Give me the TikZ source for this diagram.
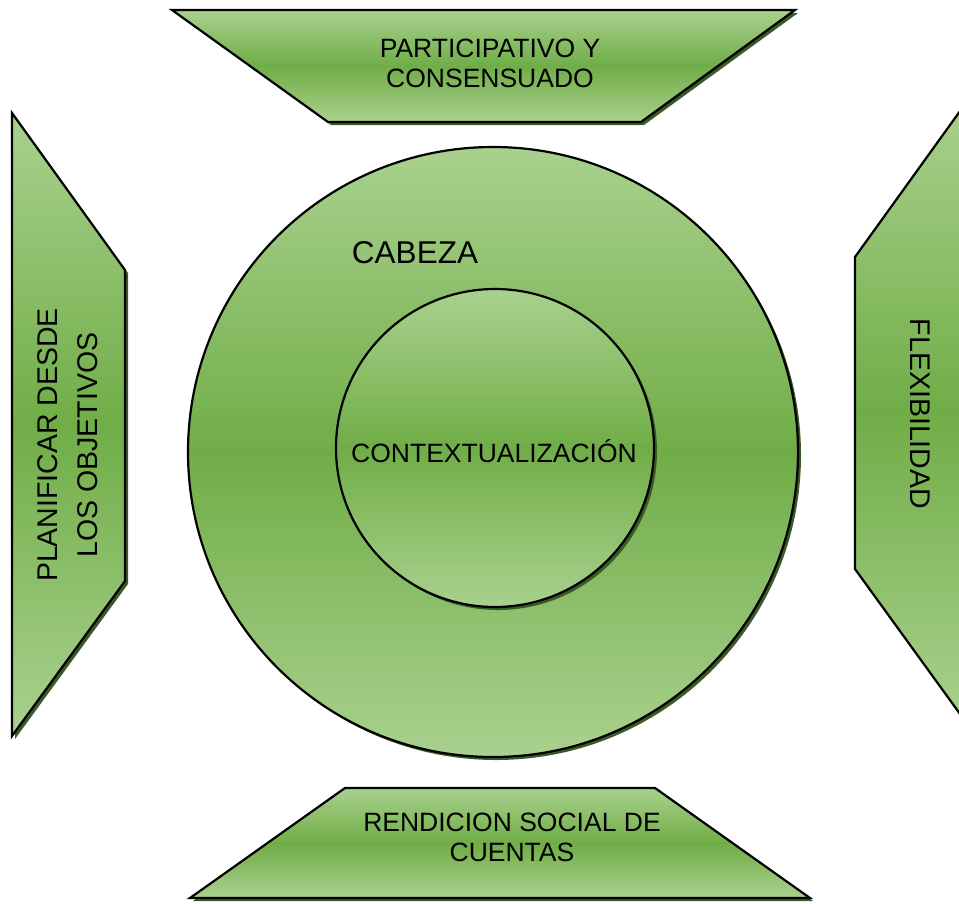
\documentclass[tikz,border=0pt]{standalone}
\usepackage{fontspec}
\setmainfont{Liberation Sans}
\usetikzlibrary{shadows}
\definecolor{glight}{HTML}{A9D18E}
\definecolor{gdark}{HTML}{70AD47}
\definecolor{gshadow}{HTML}{3B5A27}

\begin{document}
\begin{tikzpicture}[x=1pt,y=-1pt,
  part/.style={draw, line width=2.2pt, line join=miter, top color=glight, bottom color=glight, middle color=gdark,
    drop shadow={shadow xshift=3pt, shadow yshift=-3pt, fill=gshadow, opacity=1}},
  lbl/.style={align=center, inner sep=0pt, font=\fontsize{26.5}{30}\selectfont},
  sidelbl/.style={align=center, inner sep=0pt, font=\fontsize{28.5}{40}\selectfont}]
\useasboundingbox (0,0) rectangle (959,903);
% outer shapes
\draw[part] (172,10) -- (795,10) -- (641,122) -- (328,122) -- cycle;
\draw[part] (12,113) -- (125,270) -- (125,581) -- (12,736) -- cycle;
\draw[part] (968,100) -- (855,257) -- (855,569) -- (968,725) -- cycle;
\draw[part] (345,788) -- (655,788) -- (810,898) -- (190,898) -- cycle;
% circles
\draw[part] (493,452) circle[radius=305];
\draw[part] (495,448) circle[radius=159];
% labels
\node[lbl] (partic) at (490,63) {PARTICIPATIVO Y\\CONSENSUADO};
\node[sidelbl, rotate=90] (planif) at (68,445) {PLANIFICAR DESDE\\LOS OBJETIVOS};
\node[sidelbl, rotate=-90] (flex) at (920,414) {FLEXIBILIDAD};
\node[lbl] (rendic) at (512,837) {RENDICION SOCIAL DE\\CUENTAS};
\node[font=\fontsize{31.5}{36}\selectfont, inner sep=0pt] (cabeza) at (415,253) {CABEZA};
\node[lbl] (context) at (494,451) {CONTEXTUALIZACIÓN};
\end{tikzpicture}
\end{document}
